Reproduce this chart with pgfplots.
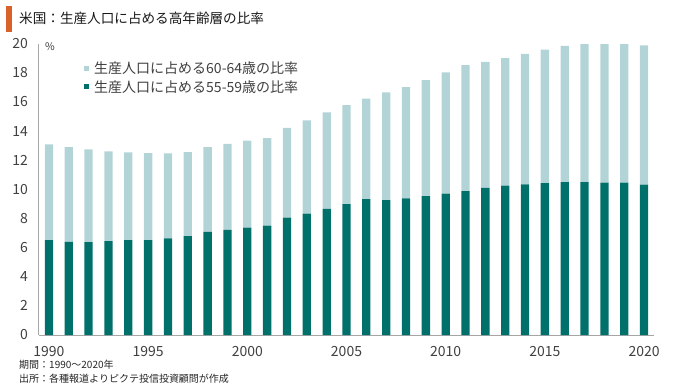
\documentclass[border=0pt]{standalone}
\usepackage{fontspec}
\setmainfont{Noto Sans CJK JP}
\usepackage{pgfplots}
\usepackage{pgfplotstable}
\pgfplotsset{compat=1.18}
\definecolor{darkteal}{HTML}{00706B}
\definecolor{lightteal}{HTML}{B3D4D6}
\definecolor{titleorange}{HTML}{D9622B}
\definecolor{txt}{HTML}{404040}
\definecolor{axgray}{HTML}{A6A6A6}

\pgfplotstableread{
year a b
1990 6.52 6.57
1991 6.40 6.50
1992 6.38 6.36
1993 6.45 6.16
1994 6.52 6.02
1995 6.52 5.97
1996 6.63 5.84
1997 6.79 5.77
1998 7.07 5.83
1999 7.21 5.90
2000 7.37 5.97
2001 7.51 6.01
2002 8.06 6.15
2003 8.33 6.40
2004 8.65 6.63
2005 8.99 6.78
2006 9.33 6.89
2007 9.26 7.40
2008 9.38 7.64
2009 9.54 7.96
2010 9.70 8.33
2011 9.88 8.65
2012 10.09 8.65
2013 10.25 8.76
2014 10.34 8.95
2015 10.43 9.15
2016 10.50 9.34
2017 10.50 9.47
2018 10.45 9.52
2019 10.45 9.52
2020 10.32 9.56
}\datatable

\begin{document}
\begin{tikzpicture}
\useasboundingbox (0pt,0pt) rectangle (680pt,-388pt);
\fill[titleorange] (6pt,-6pt) rectangle (12pt,-32pt);
\node[anchor=west, inner sep=0pt, font=\fontsize{13.6}{16}\selectfont, text=black!90] at (19pt,-18.5pt) {米国：生産人口に占める高年齢層の比率};
\begin{axis}[
  at={(39pt,-335pt)}, anchor=south west,
  scale only axis, width=615pt, height=291.4pt,
  xmin=1989.5, xmax=2020.5, ymin=0, ymax=20,
  ybar stacked, bar width=8.3pt,
  xtick={1990,1995,...,2020},
  ytick={0,2,...,20},
  /pgf/number format/1000 sep={},
  /pgf/number format/assume math mode=true,
  axis x line*=bottom, axis y line*=left,
  axis line style={-, draw=axgray, line width=1pt},
  major tick length=0pt, tick style={draw=none},
  ticklabel style={font=\fontsize{14}{16}\selectfont, text=txt, inner sep=0pt},
  xticklabel shift=11pt, yticklabel shift=11pt,
  ylabel={\%},
  every axis y label/.style={at={(axis description cs:0.0098,0.988)}, anchor=west, font=\fontsize{10.5}{12}\selectfont, text=txt, inner sep=0pt},
  legend cell align=left, reverse legend,
  legend style={at={(axis description cs:0.0732,0.939)}, anchor=north west, draw=none, fill=none,
    font=\fontsize{14}{16}\selectfont, text=txt, inner sep=0pt, nodes={inner sep=0pt},
    column sep=5pt, row sep=5.5pt},
  legend image code/.code={\fill[#1] (0pt,-2.5pt) rectangle (5pt,2.5pt);},
]
\addplot[fill=darkteal, draw=none] table[x=year, y=a] {\datatable};
\addlegendentry{生産人口に占める55-59歳の比率}
\addplot[fill=lightteal, draw=none] table[x=year, y=b] {\datatable};
\addlegendentry{生産人口に占める60-64歳の比率}
\end{axis}
\node[anchor=west, inner sep=0pt, font=\fontsize{10}{12}\selectfont, text=black!85] at (19pt,-364.5pt) {期間：1990～2020年};
\node[anchor=west, inner sep=0pt, font=\fontsize{10}{12}\selectfont, text=black!85] at (19pt,-378.5pt) {出所：各種報道よりピクテ投信投資顧問が作成};
\end{tikzpicture}
\end{document}
